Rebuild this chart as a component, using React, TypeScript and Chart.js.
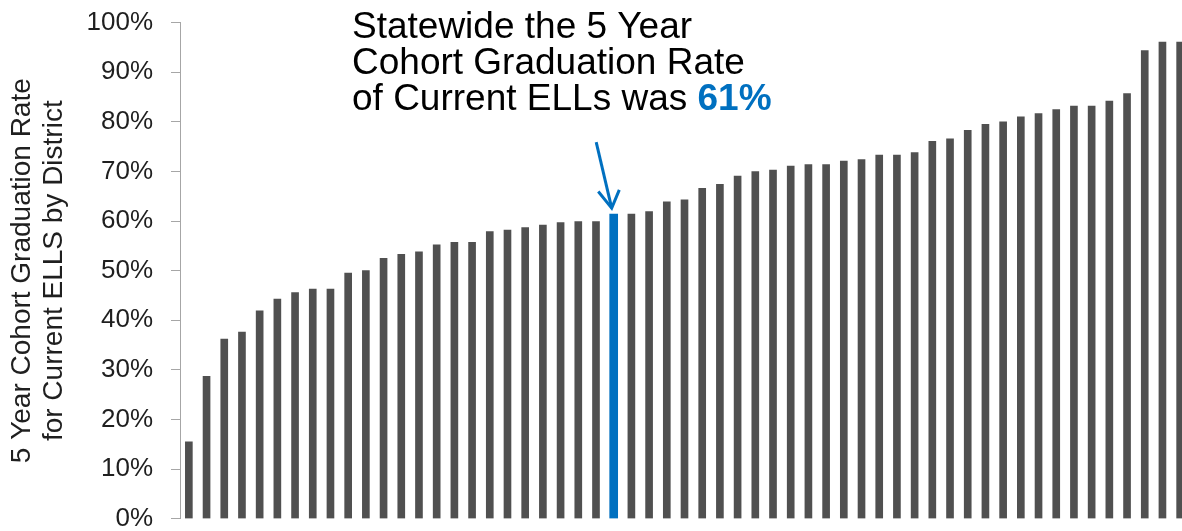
import { useEffect, useRef } from "react";
import { Chart, registerables } from "chart.js";

Chart.register(...registerables);

// ---- Data ----
const rates: number[] = [
  15.5, 28.7, 36.2, 37.6, 41.9, 44.3, 45.6, 46.3, 46.3, 49.5,
  50.0, 52.5, 53.3, 53.8, 55.2, 55.7, 55.7, 57.9, 58.2, 58.7,
  59.2, 59.7, 59.9, 59.9, 61.4, 61.4, 61.9, 63.9, 64.3, 66.6,
  67.4, 69.1, 70.0, 70.3, 71.1, 71.4, 71.4, 72.1, 72.4, 73.3,
  73.3, 73.8, 76.1, 76.6, 78.3, 79.5, 80.0, 81.0, 81.7, 82.5,
  83.2, 83.2, 84.2, 85.7, 94.4, 96.1, 96.1,
];
const districts: string[] = rates.map((_, i) => `District ${i + 1}`);
const highlightIndex = 24; // statewide bar
const yAxisTitle: string[] = ["5 Year Cohort Graduation Rate", "for Current ELLS by District"];
const noteLines: string[] = ["Statewide the 5 Year", "Cohort Graduation Rate", "of Current ELLs was "];
const noteValue = "61%";

const FONT = '"Liberation Sans", Arial, Helvetica, sans-serif';
const GRAY = "#505050";
const BLUE = "#0070C0";
const AXIS = "#a6a6a6";

const notePlugin = {
  id: "statewideNote",
  afterDraw(chart: any) {
    const ctx: CanvasRenderingContext2D = chart.ctx;
    const xs = chart.scales.x;
    const ys = chart.scales.y;
    const bx = xs.getPixelForValue(highlightIndex);
    const by = ys.getPixelForValue(rates[highlightIndex]);
    ctx.save();
    // text
    ctx.textBaseline = "alphabetic";
    ctx.textAlign = "left";
    ctx.font = `37px ${FONT}`;
    ctx.fillStyle = "#000";
    const left = 352;
    const baselines = [37.5, 73.8, 110.2];
    noteLines.forEach((t, i) => ctx.fillText(t, left, baselines[i]));
    const w = ctx.measureText(noteLines[2]).width;
    ctx.font = `bold 37px ${FONT}`;
    ctx.fillStyle = BLUE;
    ctx.fillText(noteValue, left + w, baselines[2]);
    // arrow
    const tipX = bx - 2;
    const tipY = by - 6;
    const sx = bx - 17.5;
    const sy = by - 72;
    ctx.strokeStyle = BLUE;
    ctx.lineWidth = 3;
    ctx.lineCap = "butt";
    ctx.lineJoin = "miter";
    ctx.beginPath();
    ctx.moveTo(sx, sy);
    ctx.lineTo(tipX, tipY);
    ctx.stroke();
    ctx.beginPath();
    ctx.moveTo(tipX - 13.4, tipY - 16.6);
    ctx.lineTo(tipX, tipY);
    ctx.lineTo(tipX + 7.6, tipY - 18.3);
    ctx.stroke();
    ctx.restore();
  },
};

export default function App() {
  const ref = useRef<HTMLCanvasElement | null>(null);

  useEffect(() => {
    if (!ref.current) return;
    const chart = new Chart(ref.current, {
      type: "bar",
      data: {
        labels: districts,
        datasets: [
          {
            label: "District",
            data: rates.map((v, i) => (i === highlightIndex ? null : v)),
            backgroundColor: GRAY,
            barThickness: 7,
            grouped: false,
          } as any,
          {
            label: "Statewide",
            data: rates.map((v, i) => (i === highlightIndex ? v : null)),
            backgroundColor: BLUE,
            barThickness: 8,
            grouped: false,
          } as any,
        ],
      },
      options: {
        responsive: false,
        animation: false,
        layout: { padding: { top: 22.7, bottom: 12.3, left: 0, right: 1 } },
        plugins: {
          legend: { display: false },
          tooltip: { enabled: false },
        },
        scales: {
          x: { display: false },
          y: {
            min: 0,
            max: 100,
            ticks: {
              stepSize: 10,
              padding: 18,
              color: "#1f1f1f",
              font: { family: FONT, size: 26 },
              callback: (v: any) => `${v}%`,
            },
            grid: {
              drawOnChartArea: false,
              drawTicks: true,
              tickLength: 9,
              color: AXIS,
              lineWidth: 1,
            },
            border: { display: true, color: AXIS, width: 1 },
            title: {
              display: true,
              text: yAxisTitle,
              color: "#1f1f1f",
              font: { family: FONT, size: 28, lineHeight: 1.13 },
              padding: { top: 6.6, bottom: 0 },
            },
            afterFit: (scale: any) => {
              scale.width = 180;
              scale.paddingTop = 0;
              scale.paddingBottom = 0;
            },
          },
        },
      },
      plugins: [notePlugin],
    });
    return () => chart.destroy();
  }, []);

  return (
    <div
      style={{
        position: "fixed",
        left: 0,
        top: 0,
        width: 1182,
        height: 531,
        overflow: "hidden",
        background: "#fff",
      }}
    >
      <canvas ref={ref} width={1190} height={531} style={{ display: "block" }} />
    </div>
  );
}
